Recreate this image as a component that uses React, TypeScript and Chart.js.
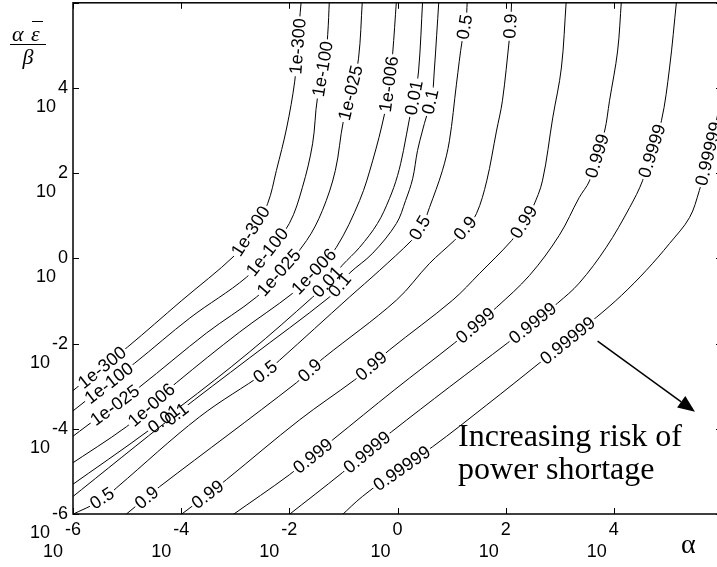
import React, { useEffect, useRef } from "react";
import { Chart, registerables } from "chart.js";
Chart.register(...registerables);

// contour level labels (MATLAB clabel text)
const levelLabels = ["1e-300", "1e-100", "1e-025", "1e-006", "0.01", "0.1", "0.5", "0.9", "0.99", "0.999", "0.9999", "0.99999"];

// contour paths, points as [log10(alpha), log10(alpha*eps/beta)]
const c1e300 = [[-6.1, -3.21], [-5.47, -2.55], [-4.99, -2.08], [-4.0, -1.0], [-3.01, 0.07], [-2.68, 0.61], [-2.4, 1.29], [-2.24, 2.06], [-2.05, 3.06], [-1.9, 4.16], [-1.85, 4.98], [-1.78, 6.05]];
const c1e100 = [[-6.1, -3.68], [-5.34, -2.92], [-4.86, -2.46], [-3.84, -1.4], [-2.79, -0.44], [-2.4, 0.14], [-2.0, 0.82], [-1.76, 1.66], [-1.57, 2.69], [-1.48, 3.77], [-1.35, 4.44], [-1.29, 5.26], [-1.26, 6.05]];
const c1e025 = [[-6.1, -4.27], [-5.23, -3.44], [-4.77, -3.02], [-3.53, -1.75], [-2.61, -0.91], [-2.18, -0.35], [-1.68, 0.42], [-1.39, 1.12], [-1.15, 2.06], [-1.0, 3.23], [-0.85, 3.88], [-0.72, 4.7], [-0.65, 6.05]];
const c1e006 = [[-6.1, -4.88], [-5.01, -3.95], [-4.55, -3.44], [-4.09, -2.92], [-2.92, -1.73], [-1.94, -0.82], [-1.53, -0.33], [-1.13, 0.26], [-0.7, 1.36], [-0.46, 2.29], [-0.24, 3.39], [-0.15, 4.09], [-0.09, 4.8], [-0.02, 6.05]];
const c001 = [[-6.1, -5.39], [-4.58, -4.02], [-4.34, -3.74], [-4.03, -3.49], [-2.74, -2.2], [-1.57, -0.91], [-1.29, -0.56], [-1.02, -0.16], [-0.7, 0.26], [-0.37, 0.82], [-0.15, 1.4], [0.0, 1.94], [0.11, 2.53], [0.22, 3.27], [0.31, 3.77], [0.39, 4.4], [0.465, 6.05]];
const c01 = [[-6.1, -5.69], [-4.09, -3.65], [-2.74, -2.34], [-1.26, -0.91], [-1.07, -0.63], [-0.89, -0.35], [-0.46, 0.12], [-0.02, 0.82], [0.15, 1.36], [0.28, 1.87], [0.37, 2.53], [0.46, 2.99], [0.54, 3.35], [0.63, 3.67], [0.68, 4.4], [0.765, 6.05]];
const c05 = [[-6.06, -6.04], [-5.45, -5.66], [-5.19, -5.38], [-3.66, -3.72], [-2.44, -2.67], [-2.18, -2.39], [-0.89, -0.91], [-0.33, -0.28], [0.26, 0.42], [0.44, 0.7], [0.59, 1.19], [0.83, 2.06], [0.96, 2.76], [1.09, 4.09], [1.2, 5.15], [1.26, 5.43], [1.29, 6.05]];
const c09 = [[-5.05, -6.04], [-4.64, -5.61], [-4.4, -5.36], [-1.87, -2.92], [-1.63, -2.62], [-1.35, -2.32], [-0.02, -0.98], [0.59, -0.12], [1.05, 0.42], [1.26, 0.7], [1.46, 1.05], [1.65, 1.82], [1.83, 2.99], [1.94, 3.7], [2.07, 5.17], [2.09, 5.45], [2.11, 6.05]];
const c099 = [[-4.03, -6.04], [-3.51, -5.54], [-3.16, -5.19], [-1.81, -3.79], [-0.79, -2.85], [-0.48, -2.53], [-0.15, -2.15], [1.02, -0.98], [1.52, -0.35], [2.11, 0.42], [2.35, 0.84], [2.5, 1.19], [2.68, 1.82], [2.87, 3.3], [3.03, 4.47], [3.12, 6.05]];
const c0999 = [[-3.07, -6.04], [-2.0, -5.08], [-1.57, -4.63], [-1.2, -4.26], [-0.06, -3.09], [1.05, -1.99], [1.44, -1.57], [1.83, -1.15], [2.44, -0.4], [2.99, 0.54], [3.36, 1.43], [3.55, 1.82], [3.68, 2.41], [3.83, 2.99], [3.92, 3.7], [4.07, 4.87], [4.14, 6.05]];
const c09999 = [[-2.03, -6.04], [-1.02, -5.03], [-0.57, -4.54], [-0.11, -4.07], [0.96, -3.02], [2.03, -1.99], [2.5, -1.52], [2.96, -1.05], [3.36, -0.58], [3.86, 0.26], [4.29, 1.19], [4.53, 1.82], [4.69, 2.53], [4.88, 3.23], [5.03, 4.47], [5.16, 6.05]];
const c099999 = [[-1.04, -6.04], [-0.65, -5.59], [0.07, -4.91], [0.65, -4.42], [1.65, -3.44], [2.62, -2.46], [3.14, -1.92], [3.68, -1.38], [4.14, -0.87], [4.6, -0.28], [5.03, 0.35], [5.4, 0.96], [5.58, 1.59], [5.73, 2.29], [5.86, 2.99], [6.1, 4.63]];

const contourPaths = [c1e300, c1e100, c1e025, c1e006, c001, c01, c05, c09, c099, c0999, c09999, c099999];

// where each level's inline labels sit (log10 coordinates, on the contour)
const labelSpots = [
  [[-1.85, 4.98], [-2.68, 0.61], [-5.47, -2.55]],
  [[-1.35, 4.44], [-2.4, 0.14], [-5.34, -2.92]],
  [[-0.85, 3.88], [-2.18, -0.35], [-5.23, -3.44]],
  [[-0.15, 4.09], [-1.53, -0.33], [-4.55, -3.44]],
  [[0.31, 3.77], [-1.29, -0.56], [-4.34, -3.74]],
  [[0.63, 3.67], [-1.07, -0.63], [-4.09, -3.65]],
  [[1.26, 5.43], [0.44, 0.7], [-2.44, -2.67], [-5.45, -5.66]],
  [[2.09, 5.45], [1.26, 0.7], [-1.63, -2.62], [-4.64, -5.61]],
  [[2.35, 0.84], [-0.48, -2.53], [-3.51, -5.54]],
  [[3.68, 2.41], [1.44, -1.57], [-1.57, -4.63]],
  [[4.69, 2.53], [2.5, -1.52], [-0.57, -4.54]],
  [[5.78, 2.45], [3.14, -1.92], [0.07, -4.91]],
];

const xTickExps = [-6, -4, -2, 0, 2, 4, 6];
const yTickExps = [-6, -4, -2, 0, 2, 4, 6];
const xLabelExps = [-6, -4, -2, 0, 2, 4];
const yLabelExps = [-6, -4, -2, 0, 2, 4];

const annotationLines = ["Increasing risk of", "power shortage"];
const annotationAnchor = [1.12, -4.4];
const arrowTail = [3.7, -1.94];
const arrowTip = [5.5, -3.6];

const LABEL_FONT = "18px 'Liberation Sans', Arial, sans-serif";
const TICK_FONT = "18px 'Liberation Sans', Arial, sans-serif";

type Lab = { cx: number; cy: number; ang: number; w: number; text: string };

function layoutLabels(chart: any): Lab[][] {
  const xs = chart.scales.x, ys = chart.scales.y, ctx = chart.ctx;
  ctx.save();
  ctx.font = LABEL_FONT;
  const res = contourPaths.map((pts, ci) => {
    const pix = pts.map(([a, b]) => [xs.getPixelForValue(10 ** a), ys.getPixelForValue(10 ** b)]);
    const cum = [0];
    for (let i = 1; i < pix.length; i++) cum.push(cum[i - 1] + Math.hypot(pix[i][0] - pix[i - 1][0], pix[i][1] - pix[i - 1][1]));
    const at = (s: number) => {
      if (s <= 0) return pix[0];
      for (let i = 1; i < pix.length; i++) {
        if (s <= cum[i]) {
          const t = (s - cum[i - 1]) / (cum[i] - cum[i - 1] || 1);
          return [pix[i - 1][0] + t * (pix[i][0] - pix[i - 1][0]), pix[i - 1][1] + t * (pix[i][1] - pix[i - 1][1])];
        }
      }
      return pix[pix.length - 1];
    };
    const text = levelLabels[ci];
    const w = ctx.measureText(text).width;
    return labelSpots[ci].map(([a, b]) => {
      const px = xs.getPixelForValue(10 ** a), py = ys.getPixelForValue(10 ** b);
      let bestD = Infinity, bestS = 0;
      for (let i = 1; i < pix.length; i++) {
        const [x0, y0] = pix[i - 1], [x1, y1] = pix[i];
        const dx = x1 - x0, dy = y1 - y0, L2 = dx * dx + dy * dy || 1;
        let t = ((px - x0) * dx + (py - y0) * dy) / L2;
        t = Math.max(0, Math.min(1, t));
        const qx = x0 + t * dx, qy = y0 + t * dy;
        const d = Math.hypot(px - qx, py - qy);
        if (d < bestD) { bestD = d; bestS = cum[i - 1] + t * Math.sqrt(L2); }
      }
      const p1 = at(bestS - w / 2), p2 = at(bestS + w / 2);
      let ang = Math.atan2(p2[1] - p1[1], p2[0] - p1[0]);
      if (ang > Math.PI / 2) ang -= Math.PI;
      if (ang < -Math.PI / 2) ang += Math.PI;
      const c = [(p1[0] + p2[0]) / 2, (p1[1] + p2[1]) / 2];
      return { cx: c[0], cy: c[1], ang, w, text };
    });
  });
  ctx.restore();
  return res;
}

const decor = {
  id: "contourDecor",
  beforeDatasetsDraw(chart: any) {
    chart.$labs = layoutLabels(chart);
  },
  beforeDatasetDraw(chart: any, args: any) {
    const ctx = chart.ctx;
    const labs: Lab[] = (chart.$labs || [])[args.index] || [];
    ctx.save();
    ctx.beginPath();
    ctx.rect(0, 0, chart.width, chart.height);
    for (const l of labs) {
      const hw = l.w / 2 + 2, hh = 7;
      const c = Math.cos(l.ang), s = Math.sin(l.ang);
      const corners = [[-hw, -hh], [hw, -hh], [hw, hh], [-hw, hh]].map(([u, v]) => [l.cx + u * c - v * s, l.cy + u * s + v * c]);
      ctx.moveTo(corners[0][0], corners[0][1]);
      for (let k = 1; k < 4; k++) ctx.lineTo(corners[k][0], corners[k][1]);
      ctx.closePath();
    }
    ctx.clip("evenodd");
  },
  afterDatasetDraw(chart: any) {
    chart.ctx.restore();
  },
  afterDraw(chart: any) {
    const ctx = chart.ctx;
    const xs = chart.scales.x, ys = chart.scales.y;
    const { left, right, top, bottom } = chart.chartArea;
    ctx.save();
    // contour labels
    ctx.fillStyle = "#000";
    ctx.font = LABEL_FONT;
    ctx.textAlign = "center";
    ctx.textBaseline = "middle";
    for (const labs of chart.$labs || []) {
      for (const l of labs) {
        ctx.save();
        ctx.translate(l.cx, l.cy);
        ctx.rotate(l.ang);
        ctx.fillText(l.text, 0, 1);
        ctx.restore();
      }
    }
    // axes box
    ctx.strokeStyle = "#000";
    ctx.lineWidth = 1.5;
    ctx.strokeRect(left, top, right - left, bottom - top);
    // ticks
    ctx.lineWidth = 1;
    ctx.beginPath();
    for (const e of xTickExps) {
      const px = Math.round(xs.getPixelForValue(10 ** e)) + 0.5;
      ctx.moveTo(px, bottom); ctx.lineTo(px, bottom - 6);
      ctx.moveTo(px, top); ctx.lineTo(px, top + 6);
    }
    for (const e of yTickExps) {
      const py = Math.round(ys.getPixelForValue(10 ** e)) + 0.5;
      ctx.moveTo(left, py); ctx.lineTo(left + 6, py);
      ctx.moveTo(right, py); ctx.lineTo(right - 6, py);
    }
    ctx.stroke();
    // tick labels
    ctx.font = TICK_FONT;
    ctx.textBaseline = "middle";
    for (const e of yLabelExps) {
      const py = ys.getPixelForValue(10 ** e);
      const ex = String(e);
      const ew = ctx.measureText(ex).width;
      ctx.textAlign = "right";
      ctx.fillText(ex, left - 5, py);
      ctx.fillText("10", left - 5 - ew - 2, py + 19);
    }
    for (const e of xLabelExps) {
      const px = xs.getPixelForValue(10 ** e);
      const ex = String(e);
      const ew = ctx.measureText(ex).width;
      ctx.textAlign = "center";
      ctx.fillText(ex, px, bottom + 16);
      ctx.textAlign = "right";
      ctx.fillText("10", px - ew / 2 - 2, bottom + 38);
    }
    // x axis title
    ctx.font = "28px 'Liberation Serif', 'Times New Roman', serif";
    ctx.textAlign = "left";
    ctx.textBaseline = "alphabetic";
    ctx.fillText("α", 681, 553);
    // y axis title: alpha eps-bar over beta
    ctx.font = "italic 22px 'Liberation Serif', 'Times New Roman', serif";
    ctx.fillText("α", 12, 41);
    ctx.fillText("ε", 31, 41);
    ctx.lineWidth = 1;
    ctx.beginPath();
    ctx.moveTo(32, 21.5); ctx.lineTo(43, 21.5);
    ctx.moveTo(10, 44.5); ctx.lineTo(46, 44.5);
    ctx.stroke();
    ctx.textAlign = "center";
    ctx.fillText("β", 28, 64);
    // annotation arrow
    const tx = xs.getPixelForValue(10 ** arrowTail[0]), ty = ys.getPixelForValue(10 ** arrowTail[1]);
    const hx = xs.getPixelForValue(10 ** arrowTip[0]), hy = ys.getPixelForValue(10 ** arrowTip[1]);
    const ang = Math.atan2(hy - ty, hx - tx);
    const hl = 17, hw = 7;
    const bx = hx - hl * Math.cos(ang), by = hy - hl * Math.sin(ang);
    ctx.lineWidth = 1.5;
    ctx.beginPath();
    ctx.moveTo(tx, ty); ctx.lineTo(bx, by);
    ctx.stroke();
    ctx.beginPath();
    ctx.moveTo(hx, hy);
    ctx.lineTo(bx + hw * Math.sin(ang), by - hw * Math.cos(ang));
    ctx.lineTo(bx - hw * Math.sin(ang), by + hw * Math.cos(ang));
    ctx.closePath();
    ctx.fill();
    // annotation text
    ctx.font = "32px 'Liberation Serif', 'Times New Roman', serif";
    ctx.textAlign = "left";
    ctx.textBaseline = "alphabetic";
    const ax = xs.getPixelForValue(10 ** annotationAnchor[0]), ay = ys.getPixelForValue(10 ** annotationAnchor[1]);
    annotationLines.forEach((t, i) => ctx.fillText(t, ax, ay + i * 33));
    ctx.restore();
  },
};

export default function App() {
  const ref = useRef<HTMLCanvasElement>(null);
  useEffect(() => {
    if (!ref.current) return;
    const chart = new Chart(ref.current, {
      type: "scatter",
      data: {
        datasets: contourPaths.map((p, i) => ({
          label: levelLabels[i],
          data: p.map(([a, b]) => ({ x: 10 ** a, y: 10 ** b })),
          showLine: true,
          borderColor: "#000",
          borderWidth: 1,
          pointRadius: 0,
          tension: 0.35,
          fill: false,
        })),
      },
      options: {
        animation: false,
        responsive: false,
        events: [],
        layout: { padding: { left: 73, right: 8, top: 2.8, bottom: 53 } },
        elements: { line: { capBezierPoints: false } },
        scales: {
          x: { type: "logarithmic", min: 1e-6, max: 1e6, display: false },
          y: { type: "logarithmic", min: 1e-6, max: 1e6, display: false },
        },
        plugins: { legend: { display: false }, tooltip: { enabled: false } },
      },
      plugins: [decor],
    } as any);
    return () => chart.destroy();
  }, []);
  return (
    <div style={{ position: "fixed", left: 0, top: 0, width: 717, height: 567, overflow: "hidden", background: "#fff" }}>
      <canvas ref={ref} width={730} height={567} style={{ width: 730, height: 567, display: "block" }} />
    </div>
  );
}
